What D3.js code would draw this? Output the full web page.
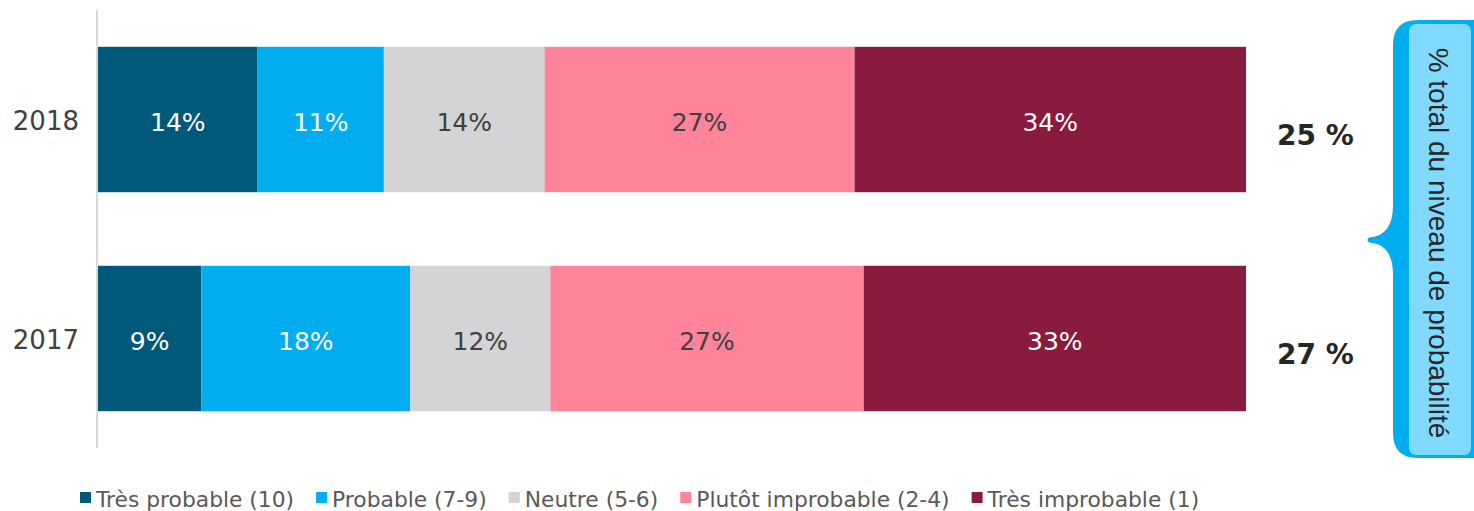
<!DOCTYPE html>
<html>
<head>
<meta charset="utf-8">
<script src="https://cdn.jsdelivr.net/npm/d3@7"></script>
<style>
  html, body { margin: 0; padding: 0; background: #fff; }
  svg { display: block; }
</style>
</head>
<body>
<svg id="chart" width="1474" height="511"></svg>
<script>
// ---- Data ----
const categories = ["2018", "2017"];
const seriesNames = ["Très probable (10)", "Probable (7-9)", "Neutre (5-6)", "Plutôt improbable (2-4)", "Très improbable (1)"];
const tresProbable = [13.9, 9.0];
const probable = [11.0, 18.2];
const neutre = [14.0, 12.2];
const plutotImprobable = [27.0, 27.3];
const tresImprobable = [34.1, 33.3];
const totals = [25, 27];
const braceLabel = "% total du niveau de probabilité";

const seriesValues = [tresProbable, probable, neutre, plutotImprobable, tresImprobable];
const colors = ["#00587A", "#00AEEF", "#D4D4D6", "#FF8399", "#8B1A3F"];
const labelColors = ["#ffffff", "#ffffff", "#404040", "#404040", "#ffffff"];

const svg = d3.select("#chart");

const x = d3.scaleLinear().domain([0, 100]).range([98, 1246]);
const y = d3.scaleBand().domain(categories).range([10, 448]).paddingInner(0.336).paddingOuter(0.168);

// stacked data
const rows = categories.map((c, i) => {
  const r = { cat: c };
  seriesNames.forEach((s, j) => r[s] = seriesValues[j][i]);
  return r;
});
const stack = d3.stack().keys(seriesNames)(rows);

const g = svg.append("g");
stack.forEach((layer, j) => {
  const lg = g.append("g");
  lg.selectAll("rect").data(layer).enter().append("rect")
    .attr("x", d => x(d[0]))
    .attr("y", d => y(d.data.cat))
    .attr("width", d => x(d[1]) - x(d[0]))
    .attr("height", y.bandwidth())
    .attr("fill", colors[j]);
  lg.selectAll("text").data(layer).enter().append("text")
    .attr("x", d => (x(d[0]) + x(d[1])) / 2)
    .attr("y", d => y(d.data.cat) + y.bandwidth() / 2 + 2)
    .attr("dy", "0.36em")
    .attr("text-anchor", "middle")
    .attr("font-family", "DejaVu Sans, Verdana, sans-serif")
    .attr("font-size", 25)
    .attr("fill", labelColors[j])
    .text(d => Math.round(d[1] - d[0]) + "%");
});

// axis line (category axis)
const yAxis = d3.axisLeft(y).tickSize(0).tickPadding(18);
const ax = svg.append("g").attr("transform", "translate(97,0)").call(yAxis);
ax.select(".domain").attr("stroke", "#d9d9d9").attr("stroke-width", 2)
  .attr("d", "M0,10V448");
ax.selectAll(".tick text")
  .attr("font-family", "DejaVu Sans, Verdana, sans-serif")
  .attr("font-size", 26)
  .attr("dy", "0.42em")
  .attr("fill", "#404040");

// totals
svg.append("g").selectAll("text").data(categories).enter().append("text")
  .attr("x", 1277)
  .attr("y", (d, i) => y(d) + y.bandwidth() / 2 + 25)
  .attr("font-family", "DejaVu Sans, Verdana, sans-serif")
  .attr("font-weight", "bold")
  .attr("font-size", 28)
  .attr("fill", "#262626")
  .text((d, i) => totals[i] + " %");

// brace
const brace = d3.path();
brace.moveTo(1474, 20);
brace.lineTo(1418, 20);
brace.quadraticCurveTo(1393, 20, 1393, 45);
brace.lineTo(1393, 205);
brace.quadraticCurveTo(1393, 236, 1369, 237.5);
brace.quadraticCurveTo(1366, 240, 1369, 242.5);
brace.quadraticCurveTo(1393, 244, 1393, 275);
brace.lineTo(1393, 433);
brace.quadraticCurveTo(1393, 458, 1418, 458);
brace.lineTo(1474, 458);
brace.closePath();
svg.append("path").attr("d", brace.toString()).attr("fill", "#00AEEF");
svg.append("rect").attr("x", 1409).attr("y", 24).attr("width", 62).attr("height", 431)
  .attr("rx", 7).attr("fill", "#80DAFD");
svg.append("text")
  .attr("transform", "translate(1429,243) rotate(90)")
  .attr("text-anchor", "middle")
  .attr("font-family", "Liberation Sans, Arial, sans-serif")
  .attr("font-size", 28)
  .attr("fill", "#262626")
  .text(braceLabel);

// legend
const legend = svg.append("g");
let lx = 80;
seriesNames.forEach((s, j) => {
  legend.append("rect").attr("x", lx).attr("y", 492).attr("width", 11).attr("height", 11).attr("fill", colors[j]);
  const t = legend.append("text").attr("x", lx + 16).attr("y", 507)
    .attr("font-family", "DejaVu Sans, Verdana, sans-serif")
    .attr("font-size", 21.8)
    .attr("fill", "#595959")
    .text(s);
  lx += 16 + t.node().getComputedTextLength() + 22;
});
</script>
</body>
</html>
